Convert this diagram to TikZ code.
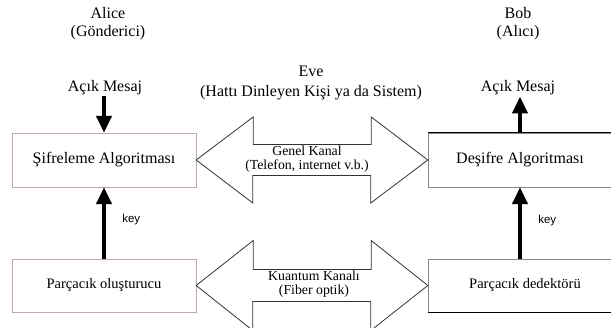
\documentclass[tikz,border=0pt]{standalone}
\usepackage{fontspec}
\setmainfont{Liberation Serif}
\newfontfamily\keyfont{Liberation Sans}
\usetikzlibrary{arrows.meta, positioning, calc}
\definecolor{BoxPink}{RGB}{190,165,185}
\definecolor{BoxSlate}{RGB}{120,138,150}

\tikzset{
  algobox/.style={minimum width=184pt, minimum height=54pt, inner sep=0pt, font=\fontsize{16}{18}\selectfont},
  partbox/.style={minimum width=184pt, minimum height=53pt, inner sep=0pt, font=\fontsize{14.5}{17}\selectfont},
  kanal/.style={draw=black!80, line width=0.8pt},
  kanaltext/.style={align=center, inner sep=0pt, font=\fontsize{13.8}{14}\selectfont},
  kalinok/.style={line width=4pt, -{Triangle[width=15pt,length=17pt]}},
  etiket/.style={align=center, inner sep=1pt, font=\fontsize{16}{18}\selectfont},
  keytext/.style={font=\keyfont\fontsize{11.5}{12}\selectfont}
}

\begin{document}
\begin{tikzpicture}[x=1pt,y=-1pt]
  \useasboundingbox (0,0) rectangle (611,328);

  % taraflar
  \node[etiket] (alice) at (108,24) {Alice\\(Gönderici)};
  \node[etiket] (bob) at (518,24) {Bob\\(Alıcı)};
  \node[etiket, font=\fontsize{16}{20}\selectfont] (eve) at (311,83) {Eve\\(Hattı Dinleyen Kişi ya da Sistem)};

  % kutular
  \node[algobox, draw=BoxPink] (sifre) at (104,160) {Şifreleme Algoritması};
  \node[partbox, draw=BoxPink] (olustur) at (104,285.5) {Parçacık oluşturucu};
  \node[algobox, draw=BoxSlate] (desifre) at (520,160) {Deşifre Algoritması};
  \node[partbox, draw=BoxSlate] (dedektor) at (520,285.5) {\hspace{10pt}Parçacık dedektörü};
  \draw[line width=0.9pt] (desifre.north west) -- (desifre.north east);
  \draw[line width=0.9pt] (dedektor.south west) -- (dedektor.south east);

  % açık mesaj
  \node[etiket] (acikA) at (105,88) {Açık Mesaj};
  \node[etiket] (acikB) at (518,88) {Açık Mesaj};
  \draw[kalinok] (acikA.south -| sifre.north) -- (sifre.north);
  \draw[kalinok] (desifre.north) -- (acikB.south -| desifre.north);

  % anahtar
  \draw[kalinok] (olustur.north) -- (sifre.south)
    node[midway, right=13pt, yshift=3pt, keytext] {key};
  \draw[kalinok] (dedektor.north) -- (desifre.south)
    node[midway, right=13pt, yshift=2pt, keytext] {key};

  % kanallar
  \draw[kanal] (sifre.east) -- ++(57,-43) -- ++(0,27.5) -- ++(118,0) -- ++(0,-27.5)
    -- (desifre.west) -- ++(-57,43) -- ++(0,-27.5) -- ++(-118,0) -- ++(0,27.5) -- cycle;
  \node[kanaltext] (genel) at (307,159) {Genel Kanal\\(Telefon, internet v.b.)};

  \draw[kanal] (olustur.east) -- ++(57,-45) -- ++(0,29) -- ++(118,0) -- ++(0,-29)
    -- (dedektor.west) -- ++(-57,45) -- ++(0,-29) -- ++(-118,0) -- ++(0,29) -- cycle;
  \node[kanaltext] (kuantum) at (314,284) {Kuantum Kanalı\\(Fiber optik)};
\end{tikzpicture}
\end{document}
